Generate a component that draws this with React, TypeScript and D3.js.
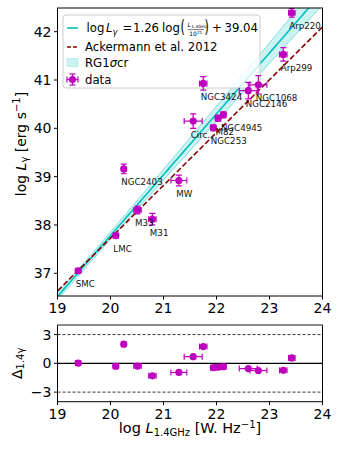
import React from 'react';
import * as d3 from 'd3';

// galaxies
const names = ['SMC', 'LMC', 'NGC2403', 'M33', 'M31', 'MW', 'Circ.', 'NGC3424', 'NGC253', 'M82', 'NGC4945', 'NGC2146', 'NGC1068', 'Arp299', 'Arp220'];
const logL14 = [19.39, 20.1, 20.25, 20.51, 20.79, 21.29, 21.56, 21.75, 21.94, 22.03, 22.13, 22.6, 22.79, 23.26, 23.42];
const logLg = [37.05, 37.78, 39.16, 38.31, 38.12, 38.92, 40.15, 40.93, 40.01, 40.21, 40.28, 40.78, 40.9, 41.53, 42.39];
const xErr = [0.05, 0.05, 0.04, 0.07, 0.07, 0.15, 0.17, 0.07, 0.05, 0.05, 0.05, 0.17, 0.16, 0.07, 0.06];
const yErr = [0.04, 0.04, 0.1, 0.08, 0.12, 0.11, 0.15, 0.14, 0.06, 0.06, 0.06, 0.17, 0.19, 0.14, 0.09];
const residual = [0.03, -0.3, 2.0, -0.28, -1.3, -0.95, 0.7, 1.75, -0.45, -0.4, -0.35, -0.55, -0.75, -0.73, 0.57];

// fit: log Lg = slope * (log L14 - 21) + intercept
const fitSlope = 1.26;
const fitIntercept = 39.04;
const ackSlope = 1.093;
const ackIntercept = 38.82;
// 1 sigma band half width grows away from the pivot
const bandPivot = 19.5;
const bandBase = 0.07;
const bandGrow = 0.057;

const xTicks = [19, 20, 21, 22, 23, 24];
const yTicksMain = [37, 38, 39, 40, 41, 42];
const yTicksRes = [-3, 0, 3];

const magenta = '#bf00bf';
const cyan = '#00bfbf';
const font = 'DejaVu Sans, sans-serif';

const W = 341;
const H = 454;
const left = 57.5;
const right = 322.5;
const mainTop = 8;
const mainBottom = 296;
const resTop = 325;
const resBottom = 401.7;
const lf = 11.7; // legend font size

const ErrBar = ({ cx, cy, x0, x1, y0, y1 }: any) => (
  <g stroke={magenta} strokeWidth={1.2}>
    <line x1={x0} x2={x1} y1={cy} y2={cy} />
    <line x1={x0} x2={x0} y1={cy - 3} y2={cy + 3} />
    <line x1={x1} x2={x1} y1={cy - 3} y2={cy + 3} />
    {y0 !== undefined && (
      <>
        <line x1={cx} x2={cx} y1={y0} y2={y1} />
        <line x1={cx - 3} x2={cx + 3} y1={y0} y2={y0} />
        <line x1={cx - 3} x2={cx + 3} y1={y1} y2={y1} />
      </>
    )}
    <circle cx={cx} cy={cy} r={3.6} fill={magenta} stroke="none" />
  </g>
);

export default function App() {
  const x = d3.scaleLinear().domain([19, 24]).range([left, right]);
  const y = d3.scaleLinear().domain([36.53, 42.49]).range([mainBottom, mainTop]);
  const yr = d3.scaleLinear().domain([-4, 4]).range([resBottom, resTop]);

  const xs = d3.range(18.9, 24.11, 0.05);
  const fit = (v: number) => fitSlope * (v - 21) + fitIntercept;
  const half = (v: number) => Math.sqrt(bandBase * bandBase + (bandGrow * (v - bandPivot)) ** 2);
  const line = d3.line<number>().x((v) => x(v));
  const area = d3
    .area<number>()
    .x((v) => x(v))
    .y0((v) => y(fit(v) - half(v)))
    .y1((v) => y(fit(v) + half(v)));

  return (
    <svg width={W} height={H} style={{ position: 'absolute', left: 0, top: 0 }} fontFamily={font}>
      <defs>
        <clipPath id="mainclip">
          <rect x={left} y={mainTop} width={right - left} height={mainBottom - mainTop} />
        </clipPath>
      </defs>
      <rect width={W} height={H} fill="white" />

      {/* main panel */}
      <g clipPath="url(#mainclip)">
        <path d={area(xs) || ''} fill={cyan} fillOpacity={0.2} stroke="none" />
        <path d={line.y((v) => y(fit(v) + half(v)))(xs) || ''} fill="none" stroke={cyan} strokeOpacity={0.45} strokeWidth={1} />
        <path d={line.y((v) => y(fit(v) - half(v)))(xs) || ''} fill="none" stroke={cyan} strokeOpacity={0.45} strokeWidth={1} />
        <path d={line.y((v) => y(fit(v)))(xs) || ''} fill="none" stroke={cyan} strokeWidth={1.6} />
        <path
          d={line.y((v) => y(ackSlope * (v - 21) + ackIntercept))(xs) || ''}
          fill="none"
          stroke="#8b0000"
          strokeWidth={1.6}
          strokeDasharray="5.5,2.5"
        />
      </g>

      {/* legend */}
      <g>
        <rect x={63} y={15} width={197} height={73} rx={3} fill="white" fillOpacity={0.8} stroke="#ccc" />
        <line x1={67} x2={78} y1={28} y2={28} stroke={cyan} strokeWidth={1.6} />
        <text x={86.5} y={32} fontSize={lf}>log</text>
        <text x={106} y={32} fontSize={lf} fontStyle="italic">L</text>
        <text x={112.5} y={34.5} fontSize={8.2} fontStyle="italic">γ</text>
        <text x={122.5} y={32} fontSize={lf}>=</text>
        <text x={133} y={32} fontSize={lf}>1.26</text>
        <text x={162} y={32} fontSize={lf}>log</text>
        <text transform="translate(180.5,33) scale(0.8,1.3)" fontSize={14}>(</text>
        <text x={187.5} y={27} fontSize={6} fontStyle="italic">L</text>
        <text x={191.3} y={28} fontSize={4.3}>1.4GHz</text>
        <line x1={187.5} x2={204} y1={29.6} y2={29.6} stroke="#000" strokeWidth={0.5} />
        <text x={195.8} y={36.2} fontSize={6} textAnchor="middle">
          10<tspan fontSize={4.3} dy={-2.3}>21</tspan>
        </text>
        <text transform="translate(204.5,33) scale(0.8,1.3)" fontSize={14}>)</text>
        <text x={212} y={32} fontSize={lf}>+</text>
        <text x={224.5} y={32} fontSize={lf}>39.04</text>

        <line x1={67} x2={78} y1={47} y2={47} stroke="#8b0000" strokeWidth={1.6} strokeDasharray="4,2" />
        <text x={85} y={47} fontSize={lf} dominantBaseline="central">Ackermann et al. 2012</text>

        <rect x={67} y={58.5} width={11} height={8} fill={cyan} fillOpacity={0.2} stroke={cyan} strokeOpacity={0.2} />
        <text x={85} y={63} fontSize={lf} dominantBaseline="central">
          RG1<tspan fontStyle="italic">σ</tspan>
          <tspan>cr</tspan>
        </text>

        <ErrBar cx={72.5} cy={79.5} x0={67} x1={78} y0={74} y1={85} />
        <text x={85} y={79.5} fontSize={lf} dominantBaseline="central">data</text>
      </g>

      <g clipPath="url(#mainclip)">
        {names.map((n, i) => (
          <ErrBar
            key={n}
            cx={x(logL14[i])}
            cy={y(logLg[i])}
            x0={x(logL14[i] - xErr[i])}
            x1={x(logL14[i] + xErr[i])}
            y0={y(logLg[i] - yErr[i])}
            y1={y(logLg[i] + yErr[i])}
          />
        ))}
        {names.map((n, i) => (
          <text key={n} x={x(logL14[i]) - 2.5} y={y(logLg[i]) + 13.5} fontSize={8.7} dominantBaseline="central" fill="#111">
            {n}
          </text>
        ))}
      </g>
      <rect x={left} y={mainTop} width={right - left} height={mainBottom - mainTop} fill="none" stroke="#000" strokeWidth={1} />
      {xTicks.map((t) => (
        <g key={t}>
          <line x1={x(t)} x2={x(t)} y1={mainBottom} y2={mainBottom + 3.5} stroke="#000" />
          <text x={x(t)} y={mainBottom + 17} fontSize={14} textAnchor="middle">{t}</text>
        </g>
      ))}
      {yTicksMain.map((t) => (
        <g key={t}>
          <line x1={left - 3.5} x2={left} y1={y(t)} y2={y(t)} stroke="#000" />
          <text x={left - 6} y={y(t)} fontSize={14} textAnchor="end" dominantBaseline="central">{t}</text>
        </g>
      ))}
      <text transform={`translate(21,${(mainTop + mainBottom) / 2 - 8}) rotate(-90)`} fontSize={14} textAnchor="middle" dominantBaseline="central">
        log <tspan fontStyle="italic">L</tspan>
        <tspan fontSize={10} dy={3}>γ</tspan>
        <tspan dy={-3}> [erg s</tspan>
        <tspan fontSize={10} dy={-5}>−1</tspan>
        <tspan dy={5}>]</tspan>
      </text>

      {/* residual panel */}
      <line x1={left} x2={right} y1={yr(3)} y2={yr(3)} stroke="#000" strokeWidth={0.8} strokeDasharray="3,2" />
      <line x1={left} x2={right} y1={yr(-3)} y2={yr(-3)} stroke="#000" strokeWidth={0.8} strokeDasharray="3,2" />
      <line x1={left} x2={right} y1={yr(0)} y2={yr(0)} stroke="#000" strokeWidth={1.2} />
      {names.map((n, i) => (
        <ErrBar key={n} cx={x(logL14[i])} cy={yr(residual[i])} x0={x(logL14[i] - xErr[i])} x1={x(logL14[i] + xErr[i])} />
      ))}
      <rect x={left} y={resTop} width={right - left} height={resBottom - resTop} fill="none" stroke="#000" strokeWidth={1} />
      <line x1={left} x2={right} y1={resTop} y2={resTop} stroke="#999" strokeWidth={1.2} />
      {xTicks.map((t) => (
        <g key={t}>
          <line x1={x(t)} x2={x(t)} y1={resBottom} y2={resBottom + 3.5} stroke="#000" />
          <text x={x(t)} y={resBottom + 17} fontSize={14} textAnchor="middle">{t}</text>
        </g>
      ))}
      {yTicksRes.map((t) => (
        <g key={t}>
          <line x1={left - 3.5} x2={left} y1={yr(t)} y2={yr(t)} stroke="#000" />
          <text x={left - 6} y={yr(t)} fontSize={14} textAnchor="end" dominantBaseline="central">
            {t < 0 ? `−${-t}` : t}
          </text>
        </g>
      ))}
      <text transform={`translate(17,${yr(0)}) rotate(-90)`} fontSize={14} textAnchor="middle" dominantBaseline="central">
        Δ<tspan fontSize={10} dy={3}>1.4γ</tspan>
      </text>
      <text x={(left + right) / 2} y={433} fontSize={14.5} textAnchor="middle">
        log <tspan fontStyle="italic">L</tspan>
        <tspan fontSize={10} dy={3}>1.4GHz</tspan>
        <tspan dy={-3}> [W. Hz</tspan>
        <tspan fontSize={10} dy={-5}>−1</tspan>
        <tspan dy={5}>]</tspan>
      </text>
    </svg>
  );
}
